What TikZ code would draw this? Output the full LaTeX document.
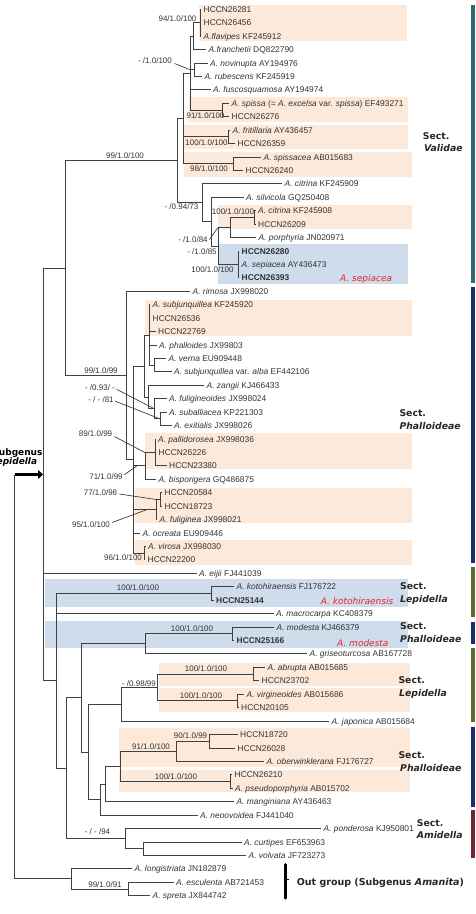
\documentclass[tikz,border=0pt]{standalone}
\usepackage{fontspec}
\setmainfont{Liberation Sans}
\newfontfamily\dejavu{DejaVu Sans}
\usetikzlibrary{arrows.meta,calc}

\definecolor{pesca}{HTML}{FCE9DA}
\definecolor{azzurro}{HTML}{CFDCEC}
\definecolor{linea}{HTML}{404040}
\definecolor{testo}{HTML}{333333}
\definecolor{rosso}{HTML}{E3262B}
\definecolor{barTeal}{HTML}{2C6B70}
\definecolor{barNavy}{HTML}{1E2C6A}
\definecolor{barOlive}{HTML}{5B6A2F}
\definecolor{barMaroon}{HTML}{6A2734}

\tikzset{
  branch/.style={draw=linea, line width=0.85pt},
  pointer/.style={draw=linea, line width=0.7pt},
  leaf/.style={anchor=west, inner xsep=2.5pt, inner ysep=0pt, text height=6pt, text depth=0pt,
    text=testo, font=\fontsize{8.4}{9}\selectfont},
  bsupp/.style={inner sep=0pt, text height=5.8pt, text depth=0pt, text=testo, font=\fontsize{8}{9}\selectfont},
  sect/.style={anchor=west, inner sep=0pt, text height=6.8pt, text depth=0pt, text=black!85,
    font=\dejavu\bfseries\fontsize{9.3}{10}\selectfont},
  specie/.style={anchor=west, inner sep=0pt, text height=6.6pt, text depth=0pt, text=rosso,
    font=\dejavu\itshape\fontsize{9}{10}\selectfont},
}

\begin{document}
\begin{tikzpicture}[x=1pt, y=-1pt]
  \useasboundingbox (0,0) rectangle (475,914);
  \clip (0,0) rectangle (475,914);

  % riquadri colorati
  \fill[pesca] (199,5) rectangle (407,41);
  \fill[pesca] (189,97) rectangle (408,121.5);
  \fill[pesca] (183,125) rectangle (408,149);
  \fill[pesca] (184,151.7) rectangle (412,176.5);
  \fill[pesca] (218,205) rectangle (412,229);
  \fill[azzurro] (218,244.3) rectangle (408,284);
  \fill[pesca] (145,300) rectangle (412,335.5);
  \fill[pesca] (145,433.3) rectangle (412,468.5);
  \fill[pesca] (135,488.3) rectangle (412,523.3);
  \fill[pesca] (135,540) rectangle (412,565);
  \fill[azzurro] (45,579) rectangle (408,606.7);
  \fill[azzurro] (45,620.7) rectangle (408,648.3);
  \fill[pesca] (159.3,663.3) rectangle (410,686.3);
  \fill[pesca] (159.3,688.3) rectangle (410,711.7);
  \fill[pesca] (119.3,728.3) rectangle (410,767.3);
  \fill[pesca] (119.3,770) rectangle (410,791.7);

  % barre delle sezioni
  \fill[barTeal] (470.7,5) rectangle (475,283);
  \fill[barNavy] (470.7,287) rectangle (475,563);
  \fill[barOlive] (470.7,567) rectangle (475,617);
  \fill[barNavy] (470.7,622) rectangle (475,644);
  \fill[barOlive] (470.7,648) rectangle (475,722);
  \fill[barNavy] (470.7,727) rectangle (475,807);
  \fill[barMaroon] (470.7,810) rectangle (475,858);

  % nodi interni
  \coordinate (N1) at (200,22.7);
  \coordinate (N2) at (193,36.2);
  \coordinate (N3) at (194,69.7);
  \coordinate (V1) at (190,73.1);
  \coordinate (S1) at (222,110.0);
  \coordinate (F1) at (228,136.9);
  \coordinate (SP) at (233,163.7);
  \coordinate (V0) at (183,118.4);
  \coordinate (CT) at (254,217.5);
  \coordinate (C3) at (230,227.5);
  \coordinate (SE) at (238,264.5);
  \coordinate (C4) at (218,246.0);
  \coordinate (C2) at (211.7,221.7);
  \coordinate (C1) at (202,202.8);
  \coordinate (VR) at (177,160.6);
  \coordinate (Q2) at (154,365.2);
  \coordinate (Q1) at (149,335.0);
  \coordinate (SA) at (160,418.9);
  \coordinate (P6) at (154.3,408.8);
  \coordinate (P7) at (148.3,397.1);
  \coordinate (P2) at (144,366.0);
  \coordinate (PA) at (155,452.5);
  \coordinate (P4) at (145,465.9);
  \coordinate (H2) at (160,499.5);
  \coordinate (H1) at (156,509.6);
  \coordinate (VI) at (144,553.2);
  \coordinate (P1) at (133.3,459.6);
  \coordinate (P0) at (126,375.5);
  \coordinate (VP) at (65,268.0);
  \coordinate (K1) at (211.7,593.5);
  \coordinate (MO) at (232.3,633.8);
  \coordinate (M1) at (145,643.9);
  \coordinate (AB) at (253.3,674.1);
  \coordinate (VG) at (237.3,700.9);
  \coordinate (LC) at (157.3,687.5);
  \coordinate (LB) at (121.7,704.3);
  \coordinate (PH1) at (209.3,741.2);
  \coordinate (PH2) at (176,751.3);
  \coordinate (PS) at (230.7,781.5);
  \coordinate (PB) at (120,766.4);
  \coordinate (L6) at (105,784.0);
  \coordinate (L5) at (100,799.6);
  \coordinate (L4) at (88.3,752.0);
  \coordinate (L3) at (81.7,697.9);
  \coordinate (CU) at (143.3,848.7);
  \coordinate (AM) at (125,838.6);
  \coordinate (L2) at (66.7,768.3);
  \coordinate (L1) at (56,680.9);
  \coordinate (L0) at (43,474.5);
  \coordinate (ES) at (128.3,889.0);
  \coordinate (OG) at (71.7,878.9);
  \coordinate (root) at (14.5,474.5);

  % foglie: Validae
  \node[leaf] (l0) at (201,9.3) {HCCN26281};
  \node[leaf] (l1) at (201,22.7) {HCCN26456};
  \node[leaf] (l2) at (201,36.2) {\textit{A.flavipes} KF245912};
  \node[leaf] (l3) at (206,49.6) {\textit{A.franchetii} DQ822790};
  \node[leaf] (l4) at (207.5,63.0) {\textit{A. novinupta} AY194976};
  \node[leaf] (l5) at (202,76.5) {\textit{A. rubescens} KF245919};
  \node[leaf] (l6) at (210.5,89.9) {\textit{A. fuscosquamosa} AY194974};
  \node[leaf] (l7) at (229,103.3) {\textit{A. spissa} (= \textit{A. excelsa} var. \textit{spissa}) EF493271};
  \node[leaf] (l8) at (229,116.7) {HCCN26276};
  \node[leaf] (l9) at (230,130.2) {\textit{A. fritillaria} AY436457};
  \node[leaf] (l10) at (235,143.6) {HCCN26359};
  \node[leaf] (l11) at (261,157.0) {\textit{A. spissacea} AB015683};
  \node[leaf] (l12) at (243,170.5) {HCCN26240};
  \node[leaf] (l13) at (282,183.9) {\textit{A. citrina} KF245909};
  \node[leaf] (l14) at (243.5,197.3) {\textit{A. silvicola} GQ250408};
  \node[leaf] (l15) at (255.5,210.8) {\textit{A. citrina} KF245908};
  \node[leaf] (l16) at (255.5,224.2) {HCCN26209};
  \node[leaf] (l17) at (256,237.6) {\textit{A. porphyria} JN020971};
  \node[leaf] (l18) at (239,251.0) {\textbf{HCCN26280}};
  \node[leaf] (l19) at (239,264.5) {\textit{A. sepiacea} AY436473};
  \node[leaf] (l20) at (239,277.9) {\textbf{HCCN26393}};
  % foglie: Phalloideae
  \node[leaf] (l21) at (190,291.3) {\textit{A. rimosa} JX998020};
  \node[leaf] (l22) at (150,304.8) {\textit{A. subjunquillea} KF245920};
  \node[leaf] (l23) at (150,318.2) {HCCN26536};
  \node[leaf] (l24) at (155.5,331.6) {HCCN22769};
  \node[leaf] (l25) at (156.5,345.1) {\textit{A. phalloides} JX99803};
  \node[leaf] (l26) at (166,358.5) {\textit{A. verna} EU909448};
  \node[leaf] (l27) at (171.5,371.9) {\textit{A. subjunquillea} var. \textit{alba} EF442106};
  \node[leaf] (l28) at (204,385.3) {\textit{A. zangii} KJ466433};
  \node[leaf] (l29) at (166.5,398.8) {\textit{A. fuligineoides} JX998024};
  \node[leaf] (l30) at (166.5,412.2) {\textit{A. suballiacea} KP221303};
  \node[leaf] (l31) at (171.5,425.6) {\textit{A. exitialis} JX998026};
  \node[leaf] (l32) at (155.5,439.1) {\textit{A. pallidorosea} JX998036};
  \node[leaf] (l33) at (156,452.5) {HCCN26226};
  \node[leaf] (l34) at (166.5,465.9) {HCCN23380};
  \node[leaf] (l35) at (156,479.4) {\textit{A. bisporigera} GQ486875};
  \node[leaf] (l36) at (162,492.8) {HCCN20584};
  \node[leaf] (l37) at (162,506.2) {HCCN18723};
  \node[leaf] (l38) at (157,519.6) {\textit{A. fuliginea} JX998021};
  \node[leaf] (l39) at (140,533.1) {\textit{A. ocreata} EU909446};
  \node[leaf] (l40) at (145.5,546.5) {\textit{A. virosa} JX998030};
  \node[leaf] (l41) at (145,559.9) {HCCN22200};
  \node[leaf] (l42) at (196.5,573.4) {\textit{A. eijii} FJ441039};
  % foglie: Lepidella e resto
  \node[leaf] (l43) at (234,586.8) {\textit{A. kotohiraensis} FJ176722};
  \node[leaf] (l44) at (213.5,600.2) {\textbf{HCCN25144}};
  \node[leaf] (l45) at (273.5,613.7) {\textit{A. macrocarpa} KC408379};
  \node[leaf] (l46) at (274,627.1) {\textit{A. modesta} KJ466379};
  \node[leaf] (l47) at (234,640.5) {\textbf{HCCN25166}};
  \node[leaf] (l48) at (307,653.9) {\textit{A. griseoturcosa} AB167728};
  \node[leaf] (l49) at (265,667.4) {\textit{A. abrupta} AB015685};
  \node[leaf] (l50) at (259,680.8) {HCCN23702};
  \node[leaf] (l51) at (244,694.2) {\textit{A. virgineoides} AB015686};
  \node[leaf] (l52) at (238.5,707.7) {HCCN20105};
  \node[leaf] (l53) at (329,721.1) {\textit{A. japonica} AB015684};
  \node[leaf] (l54) at (237.5,734.5) {HCCN18720};
  \node[leaf] (l55) at (235,748.0) {HCCN26028};
  \node[leaf] (l56) at (264,761.4) {\textit{A. oberwinklerana} FJ176727};
  \node[leaf] (l57) at (232,774.8) {HCCN26210};
  \node[leaf] (l58) at (232.5,788.2) {\textit{A. pseudoporphyria} AB015702};
  \node[leaf] (l59) at (234,801.7) {\textit{A. manginiana} AY436463};
  \node[leaf] (l60) at (197.5,815.1) {\textit{A. neoovoidea} FJ441040};
  \node[leaf] (l61) at (321,828.5) {\textit{A. ponderosa} KJ950801};
  \node[leaf] (l62) at (241.5,842.0) {\textit{A. curtipes} EF653963};
  \node[leaf] (l63) at (246,855.4) {\textit{A. volvata} JF723273};
  \node[leaf] (l64) at (132,868.8) {\textit{A. longistriata} JN182879};
  \node[leaf] (l65) at (173.5,882.3) {\textit{A. esculenta} AB721453};
  \node[leaf] (l66) at (150,895.7) {\textit{A. spreta} JX844742};

  % rami
  \foreach \p/\cs in {N1/{l0,l1,l2}, N2/{N1,l3}, N3/{l4,l5}, V1/{N2,N3,l6,S1}, S1/{l7,l8},
      F1/{l9,l10}, SP/{l11,l12}, V0/{V1,F1,SP}, CT/{l15,l16}, C3/{CT,l17}, SE/{l18,l19,l20},
      C4/{C3,SE}, C2/{l14,C4}, C1/{l13,C2}, VR/{V0,C1},
      Q2/{l26,l27}, Q1/{l22,l23,l24,l25,Q2}, SA/{l30,l31}, P6/{l29,SA}, P7/{l28,P6}, P2/{Q1,P7},
      PA/{l32,l33,l34}, P4/{PA,l35}, H2/{l36,l37}, H1/{H2,l38}, VI/{l40,l41},
      P1/{P2,P4,H1,l39,VI}, P0/{l21,P1}, VP/{VR,P0},
      K1/{l43,l44}, MO/{l46,l47}, M1/{MO,l48}, AB/{l49,l50}, VG/{l51,l52}, LC/{AB,VG}, LB/{LC,l53},
      PH1/{l54,l55}, PH2/{PH1,l56}, PS/{l57,l58}, PB/{PH2,PS}, L6/{PB,l59}, L5/{L6,l60},
      L4/{LB,L5}, L3/{M1,L4}, CU/{l62,l63}, AM/{l61,CU}, L2/{L3,AM}, L1/{K1,l45,L2},
      L0/{VP,l42,L1}, ES/{l65,l66}, OG/{l64,ES}}
    {\foreach \c in \cs {\draw[branch] (\p) |- (\c);}}

  % radice e freccia
  \draw[branch] (root) |- (OG);
  \draw[line width=3.2pt, -{Triangle[length=5pt,width=9pt]}] (root) -- (L0);
  \node[anchor=east, inner sep=0pt, font=\dejavu\bfseries\fontsize{9}{10}\selectfont] (subg) at (42.7,452.7) {Subgenus};
  \node[anchor=east, inner sep=0pt, font=\dejavu\bfseries\itshape\fontsize{9}{10}\selectfont] (subgl) at (37.3,462.3) {Lepidella};

  % supporti
  \node[bsupp] (b1) at (177.5,18.3) {94/1.0/100};
  \node[bsupp] (b2) at (155,61) {- /1.0/100};
  \node[bsupp] (b3) at (205.5,116) {91/1.0/100};
  \node[bsupp] (b4) at (206.5,142.5) {100/1.0/100};
  \node[bsupp] (b5) at (209,169) {98/1.0/100};
  \node[bsupp] (b6) at (125,156) {99/1.0/100};
  \node[bsupp] (b7) at (181.5,207) {- /0.94/73};
  \node[bsupp] (b8) at (233,211.8) {100/1.0/100};
  \node[bsupp] (b9) at (193,239.5) {- /1.0/84};
  \node[bsupp] (b10) at (202,251.5) {- /1.0/85};
  \node[bsupp] (b11) at (212.5,269.5) {100/1.0/100};
  \node[bsupp] (b12) at (101,370.5) {99/1.0/99};
  \node[bsupp] (b13) at (100,387.3) {- /0.93/ -};
  \node[bsupp] (b14) at (101,399.5) {- / - /81};
  \node[bsupp] (b15) at (95.5,433.5) {89/1.0/99};
  \node[bsupp] (b16) at (106,476.7) {71/1.0/99};
  \node[bsupp] (b17) at (100.5,492.5) {77/1.0/98};
  \node[bsupp] (b18) at (91,525) {95/1.0/100};
  \node[bsupp] (b19) at (123,558) {96/1.0/100};
  \node[bsupp] (b20) at (138,588) {100/1.0/100};
  \node[bsupp] (b21) at (192,629) {100/1.0/100};
  \node[bsupp] (b22) at (139,683.3) {- /0.98/99};
  \node[bsupp] (b23) at (206,669) {100/1.0/100};
  \node[bsupp] (b24) at (201,696) {100/1.0/100};
  \node[bsupp] (b25) at (190.5,736) {90/1.0/99};
  \node[bsupp] (b26) at (151,746.7) {91/1.0/100};
  \node[bsupp] (b27) at (176,777) {100/1.0/100};
  \node[bsupp] (b28) at (97.5,832) {- / - /94};
  \node[bsupp] (b29) at (105,884.3) {99/1.0/91};

  % linee di richiamo
  \draw[pointer] ([shift={(2.5,2.5)}]b2.east) -- (V1 |- N3);
  \draw[pointer] ([shift={(1.5,0)}]b9.east) -- (C4 |- C3);
  \draw[pointer] ([shift={(1.5,2)}]b13.east) -- (P6);
  \draw[pointer] ([shift={(1,1.5)}]b14.east) -- (SA);
  \draw[pointer] ([shift={(2,3)}]b15.east) -- (P4 |- PA);
  \draw[pointer] ([shift={(1.5,-2)}]b16.east) -- ($(P1 |- P4)!0.3!(P4)$);
  \draw[pointer] ([shift={(2,1.5)}]b17.east) -- (H1 |- H2);
  \draw[pointer] ([shift={(2,-2.5)}]b18.east) -- ($(P1 |- H1)!0.6!(H1)$);

  % specie evidenziate
  \node[specie] (rsep) at (340,278.3) {A. sepiacea};
  \node[specie] (rkot) at (320.7,600.7) {A. kotohiraensis};
  \node[specie] (rmod) at (337,642.7) {A. modesta};

  % sezioni
  \node[sect] (s1a) at (422.7,136) {Sect.};
  \node[sect] (s1b) at (424,148.3) {\itshape Validae};
  \node[sect] (s2a) at (399.3,412.7) {Sect.};
  \node[sect] (s2b) at (399.3,425.7) {\itshape Phalloideae};
  \node[sect] (s3a) at (400,586) {Sect.};
  \node[sect] (s3b) at (400,599) {\itshape Lepidella};
  \node[sect] (s4a) at (400,626) {Sect.};
  \node[sect] (s4b) at (400,639.3) {\itshape Phalloideae};
  \node[sect] (s5a) at (398.3,680) {Sect.};
  \node[sect] (s5b) at (399,692.7) {\itshape Lepidella};
  \node[sect] (s6a) at (398.3,755) {Sect.};
  \node[sect] (s6b) at (400,767.7) {\itshape Phalloideae};
  \node[sect] (s7a) at (416.7,822.7) {Sect.};
  \node[sect] (s7b) at (416.7,835) {\itshape Amidella};

  % outgroup
  \draw[line width=3pt, line cap=round] (285,864.5) -- (285,898);
  \draw[line width=1.4pt] (285,879.5) -- (289,879.5);
  \node[sect, font=\dejavu\bfseries\fontsize{9.5}{10}\selectfont] (og) at (296.7,881.7) {Out group (Subgenus \textit{Amanita})};
\end{tikzpicture}
\end{document}
